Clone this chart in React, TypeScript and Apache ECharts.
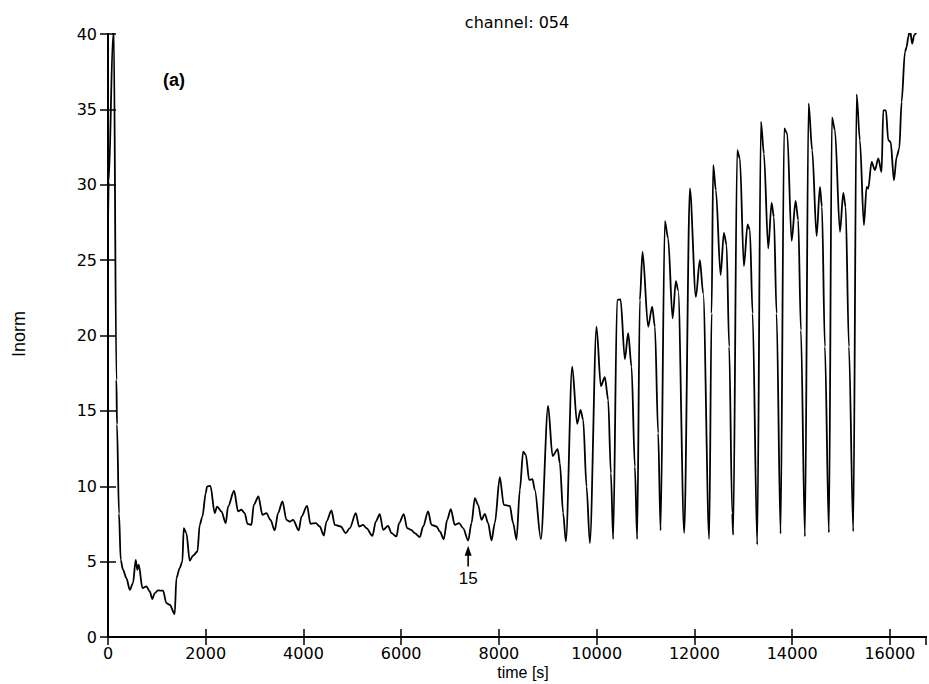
import React, { useEffect, useRef } from "react";
import * as echarts from "echarts";

// time [s]
const times: number[] = [
  0, 15, 102, 108, 117, 172, 184, 225, 260, 307, 377, 446, 512, 567, 601, 629, 704, 786, 854, 908,
  956, 1024, 1126, 1195, 1263, 1365, 1400, 1467, 1522, 1550, 1604, 1672, 1740, 1830, 1877, 1932,
  2000, 2027, 2096, 2184, 2232, 2321, 2409, 2457, 2580, 2662, 2730, 2798, 2853, 2935, 2983, 3078,
  3160, 3242, 3324, 3413, 3480, 3570, 3652, 3720, 3788, 3904, 3959, 4074, 4143, 4252, 4334, 4416,
  4471, 4573, 4641, 4764, 4866, 4948, 5071, 5139, 5220, 5289, 5412, 5480, 5562, 5630, 5732, 5801,
  5903, 5957, 6053, 6121, 6203, 6278, 6381, 6449, 6551, 6620, 6722, 6790, 6872, 6940, 7015, 7097,
  7185, 7267, 7370, 7439, 7507, 7574, 7644, 7711, 7779, 7848, 7916, 8018, 8100, 8223, 8291, 8360,
  8428, 8496, 8551, 8618, 8687, 8735, 8858, 9007, 9097, 9202, 9247, 9314, 9370, 9499, 9601, 9670,
  9724, 9793, 9861, 9997, 10086, 10168, 10236, 10291, 10338, 10419, 10489, 10577, 10645, 10714,
  10782, 10829, 10884, 10939, 11054, 11136, 11192, 11259, 11308, 11396, 11463, 11554, 11621, 11668,
  11792, 11908, 12031, 12112, 12180, 12303, 12352, 12385, 12440, 12536, 12604, 12659, 12712, 12774,
  12794, 12876, 12931, 13013, 13089, 13136, 13191, 13286, 13362, 13423, 13511, 13580, 13627, 13682,
  13764, 13838, 13900, 13990, 14071, 14125, 14180, 14262, 14337, 14411, 14501, 14569, 14610, 14671,
  14753, 14815, 14876, 14979, 15047, 15095, 15163, 15251, 15320, 15387, 15469, 15525, 15558, 15627,
  15695, 15763, 15831, 15865, 15920, 15967, 16016, 16084, 16139, 16193, 16241, 16309, 16344, 16377,
  16411, 16458, 16499, 16549, 16600,
];

// Inorm
const inorm: number[] = [
  27.3, 30.2, 39.9, 41.5, 40.6, 17.05, 14.1, 8.2, 5.12, 4.46, 3.9, 3.13, 3.58, 5.12, 4.46, 4.8, 3.25, 3.36, 3.02, 2.52,
  2.91, 3.09, 3.07, 2.25, 2.14, 1.52, 3.91, 4.57, 5.01, 7.22, 6.89, 5.06, 5.39, 5.67, 7.44, 7.99,
  9.54, 9.98, 10.03, 8.22, 8.65, 8.33, 7.55, 8.65, 9.7, 8.33, 8.44, 8.22, 7.51, 7.44, 8.77, 9.32,
  8.1, 8.22, 7.77, 7.07, 8.22, 8.99, 7.77, 7.66, 7.77, 7.07, 7.99, 8.7, 7.51, 7.55, 7.33, 6.73,
  7.66, 8.39, 7.44, 7.33, 6.89, 7.22, 8.22, 7.33, 7.44, 7.22, 6.71, 7.66, 8.15, 7.11, 7.37, 6.89,
  6.67, 7.55, 8.15, 7.22, 7.11, 6.89, 6.63, 7.33, 8.33, 7.44, 7.33, 7.0, 6.49, 7.77, 8.48, 7.44,
  7.55, 7.22, 6.4, 7.55, 9.21, 8.77, 7.77, 8.17, 7.55, 6.4, 7.55, 10.6, 8.77, 8.7, 7.55, 6.45,
  9.76, 12.3, 12.08, 10.42, 10.47, 9.76, 6.49, 15.33, 12.01, 12.46, 11.53, 8.22, 6.34, 17.93, 14.14, 15.06,
  14.4, 9.98, 6.23, 20.58, 16.65, 17.23, 15.73, 10.87, 6.49, 22.35, 22.4, 18.42, 20.15, 17.93,
  11.3, 6.49, 22.35, 25.55, 20.58, 21.91, 20.58, 13.52, 7.07, 27.59, 26.44, 21.14, 23.61, 23.0,
  6.89, 29.75, 22.57, 25.0, 22.8, 6.49, 21.47, 31.3, 29.64, 24.01, 26.81, 26.0, 19.26, 8.2,
  6.78, 32.29, 31.74, 24.6, 27.37, 26.99, 21.47, 6.12, 34.17, 32.07, 25.78, 28.8, 27.87, 21.47,
  6.85, 33.73, 33.4, 26.28, 28.93, 27.65, 20.36, 6.67, 35.39, 32.29, 26.59, 29.86, 28.54, 19.26,
  6.93, 34.46, 33.62, 26.88, 29.46, 28.54, 19.26, 7.0, 36.0, 32.96, 27.32, 29.86, 29.75, 31.52,
  30.97, 31.74, 30.85, 34.94, 34.94, 32.96, 32.84, 30.3, 31.85, 32.4, 35.49, 38.8, 39.14, 39.8,
  40.3, 39.36, 39.93, 40.1, 41.0,
];

const xTicks = { min: 0, max: 16740, interval: 2000 };
const yTicks = { min: 0, max: 40, interval: 5 };

const titleText = "channel: 054";
const xName = "time [s]";
const yName = "Inorm";
const panelLabel = "(a)";
const annotation = { time: 7370, tip: 6.05, tail: 4.68, labelAt: 3.91, text: "15" };

export default function App() {
  const ref = useRef<HTMLDivElement | null>(null);

  useEffect(() => {
    if (!ref.current) return;
    const chart = echarts.init(ref.current, null, { renderer: "svg" });
    const data = times.map((t, i) => [t, inorm[i]]);
    const tickFont = { fontFamily: "DejaVu Sans", fontSize: 16, color: "#000" };
    const axisLine = { show: true, lineStyle: { color: "#000", width: 2 } };
    const axisTick = { show: true, inside: true, length: 8, lineStyle: { color: "#000", width: 1.5 } };
    const plain = (v: number) => String(v);

    chart.setOption({
      animation: false,
      backgroundColor: "#fff",
      grid: { left: 108, top: 34, width: 818, height: 603, containLabel: false },
      xAxis: [
        {
          type: "value", position: "bottom", ...xTicks,
          axisLine, axisTick, splitLine: { show: false },
          axisLabel: { ...tickFont, margin: 8, showMaxLabel: false, formatter: plain },
        },
        {
          type: "value", position: "top", ...xTicks,
          axisLine, axisTick, splitLine: { show: false },
          axisLabel: { show: false },
        },
      ],
      yAxis: [
        {
          type: "value", position: "left", ...yTicks,
          axisLine, axisTick, splitLine: { show: false },
          axisLabel: { ...tickFont, margin: 11, formatter: plain },
        },
        {
          type: "value", position: "right", ...yTicks,
          axisLine, axisTick, splitLine: { show: false },
          axisLabel: { show: false },
        },
      ],
      series: [
        {
          type: "line",
          xAxisIndex: 0,
          yAxisIndex: 0,
          data,
          showSymbol: false,
          clip: true,
          smooth: 0.3,
          smoothMonotone: "x",
          lineStyle: { color: "#000", width: 1.8 },
        },
      ],
    });

    const tip = chart.convertToPixel({ xAxisIndex: 0, yAxisIndex: 0 }, [annotation.time, annotation.tip]);
    const tail = chart.convertToPixel({ xAxisIndex: 0, yAxisIndex: 0 }, [annotation.time, annotation.tail]);
    const lab = chart.convertToPixel({ xAxisIndex: 0, yAxisIndex: 0 }, [annotation.time, annotation.labelAt]);

    chart.setOption({
      graphic: [
        {
          type: "text", x: 517, y: 22,
          style: { text: titleText, font: "16px 'DejaVu Sans'", fill: "#000", align: "center", verticalAlign: "middle" },
        },
        {
          type: "text", x: 523, y: 672,
          style: { text: xName, font: "16px 'Liberation Sans'", fill: "#000", align: "center", verticalAlign: "middle" },
        },
        {
          type: "text", x: 19, y: 334, rotation: Math.PI / 2,
          style: { text: yName, font: "18px 'Liberation Sans'", fill: "#000", align: "center", verticalAlign: "middle" },
        },
        {
          type: "text", x: 163, y: 80,
          style: { text: panelLabel, font: "bold 18px 'Liberation Sans'", fill: "#000", align: "left", verticalAlign: "middle" },
        },
        {
          type: "line",
          shape: { x1: tail[0], y1: tail[1], x2: tip[0], y2: tip[1] + 8 },
          style: { stroke: "#000", lineWidth: 1.6 },
        },
        {
          type: "polygon",
          shape: { points: [[tip[0], tip[1]], [tip[0] - 3.5, tip[1] + 10], [tip[0] + 3.5, tip[1] + 10]] },
          style: { fill: "#000" },
        },
        {
          type: "text", x: lab[0], y: lab[1],
          style: { text: annotation.text, font: "17px 'Liberation Sans'", fill: "#000", align: "center", verticalAlign: "middle" },
        },
      ],
    });

    return () => chart.dispose();
  }, []);

  return (
    <div
      ref={ref}
      style={{ position: "fixed", left: 0, top: 0, width: 929, height: 684, background: "#fff" }}
    />
  );
}
